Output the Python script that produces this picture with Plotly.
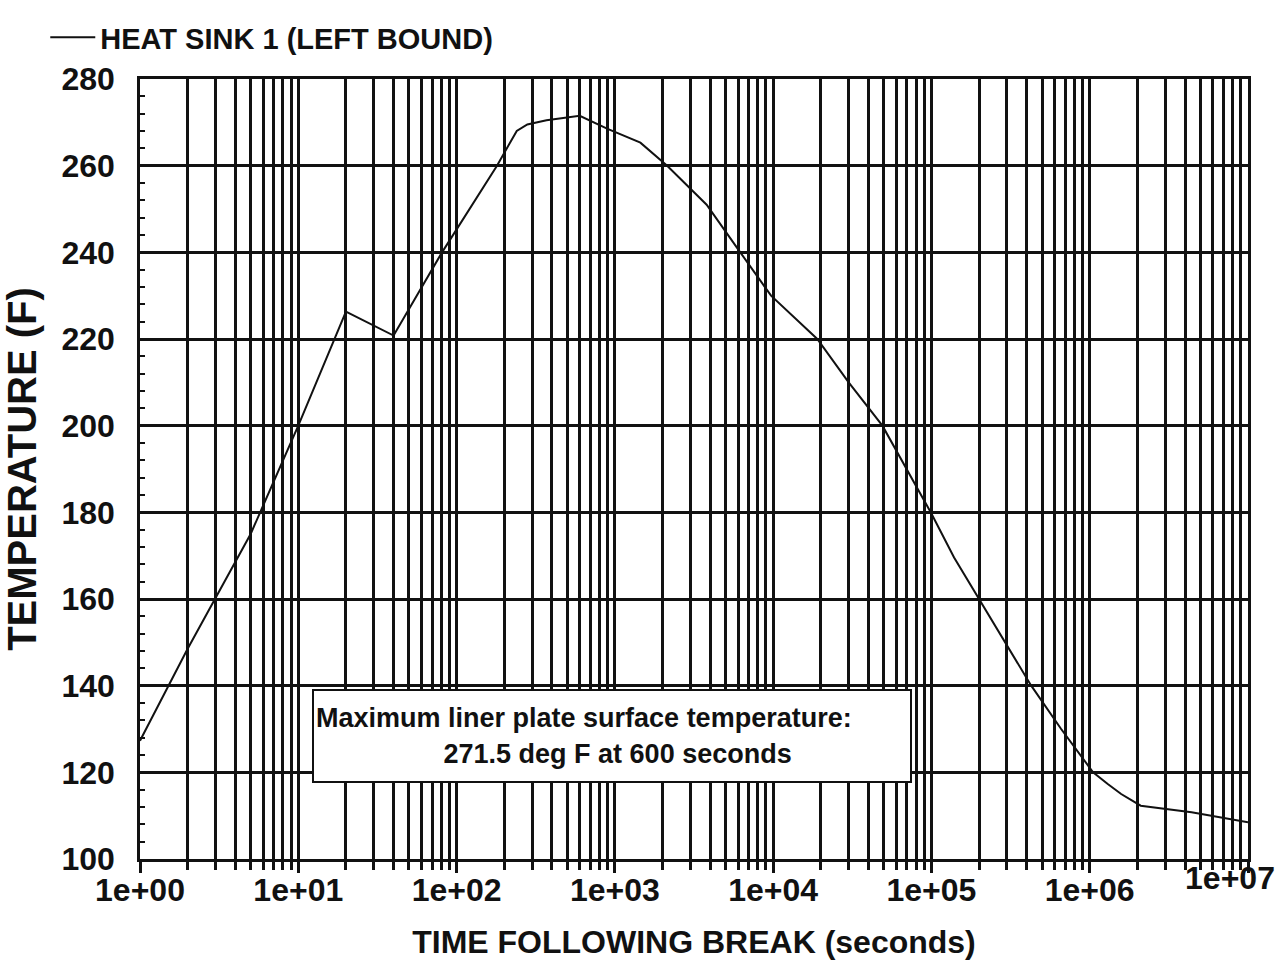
import plotly.graph_objects as go

# Heat sink 1 (left bound) surface temperature history
time_s = [1, 2, 5, 10, 20, 40, 80, 180, 240, 280, 370, 600, 900, 1450, 2140,
          3800, 6200, 9700, 19000, 30000, 49000, 70000, 99000, 139000, 200000,
          300000, 427000, 660000, 1.05e6, 1.3e6, 1.58e6, 2.1e6, 4.4e6, 1e7]
temp_f = [127.3, 148.5, 175, 200, 226.3, 220.8, 239.7, 260, 268, 269.5, 270.5,
          271.5, 268.5, 265.3, 260, 251, 240, 230, 220, 210, 200, 190, 180,
          169.6, 160, 149.6, 140, 130, 120, 117.3, 115, 112.3, 110.8, 108.5]

series_name = "HEAT SINK 1 (LEFT BOUND)"
peak_temp = 271.5
peak_time = 600

decade_vals = [1, 10, 100, 1000, 1e4, 1e5, 1e6, 1e7]
decade_text = ["1e+00", "1e+01", "1e+02", "1e+03", "1e+04", "1e+05", "1e+06",
               "1e+07"]
minor_vals = [m * d for d in decade_vals[:-1] for m in range(2, 10)]

FONT = "Liberation Sans, Arial, sans-serif"
BLACK = "#111111"
GRID_W = 2.5
TICK_FONT = dict(family=FONT, size=32, color=BLACK, weight="bold")

fig = go.Figure()
fig.add_trace(go.Scatter(
    x=time_s, y=temp_f, mode="lines", name=series_name,
    line=dict(color=BLACK, width=2),
))
# transparent copy that keeps the overlay axis (last decade label) drawn
fig.add_trace(go.Scatter(
    x=time_s, y=temp_f, mode="lines", xaxis="x2", yaxis="y",
    line=dict(color="rgba(0,0,0,0)", width=0), opacity=0,
    showlegend=False, hoverinfo="skip",
))

fig.update_layout(
    width=1278, height=972,
    margin=dict(l=140, r=30, t=76, b=113),
    paper_bgcolor="white", plot_bgcolor="white",
    font=dict(family=FONT, color=BLACK, size=30, weight="bold"),
    showlegend=True,
    legend=dict(
        x=-0.0855, y=1.086, xanchor="left", yanchor="top",
        font=dict(family=FONT, size=29, color=BLACK, weight="bold"),
        bgcolor="rgba(0,0,0,0)", itemwidth=45,
    ),
)

# main time axis: decade labels except the last, which sits on an overlay axis
fig.update_layout(
    xaxis=dict(
        type="log", range=[0, 7], automargin=False,
        tickmode="array", tickvals=decade_vals,
        ticktext=decade_text[:-1] + [""],
        tickfont=TICK_FONT, ticklabelstandoff=-10,
        ticks="outside", ticklen=11, tickwidth=GRID_W, tickcolor=BLACK,
        showgrid=True, gridcolor=BLACK, gridwidth=GRID_W,
        showline=True, linecolor=BLACK, linewidth=GRID_W, mirror=True,
        minor=dict(tickmode="array", tickvals=minor_vals, ticks="outside",
                   ticklen=8, tickwidth=GRID_W, tickcolor=BLACK,
                   showgrid=True, gridcolor=BLACK, gridwidth=GRID_W),
        title=dict(text="TIME FOLLOWING BREAK (seconds)", standoff=24,
                   font=dict(family=FONT, size=32, color=BLACK, weight="bold")),
        zeroline=False,
    ),
    xaxis2=dict(
        type="log", range=[0, 7], overlaying="x", anchor="y", side="bottom",
        automargin=False, showgrid=False, showline=False, zeroline=False,
        tickmode="array", tickvals=decade_vals[-1:], ticktext=decade_text[-1:],
        tickfont=TICK_FONT, ticks="", ticklabelshift=-18,
        ticklabelstandoff=-3, ticklabeloverflow="allow",
    ),
)

fig.update_yaxes(
    range=[100, 280], dtick=20, tick0=100, automargin=False,
    tickfont=TICK_FONT,
    ticks="inside", ticklen=5, tickwidth=1.5, tickcolor=BLACK,
    ticklabelstandoff=16,
    showgrid=True, gridcolor=BLACK, gridwidth=GRID_W,
    showline=True, linecolor=BLACK, linewidth=GRID_W, mirror=True,
    minor=dict(dtick=4, ticks="inside", ticklen=5, tickwidth=1.5,
               tickcolor=BLACK, showgrid=False),
    title=dict(text="TEMPERATURE (F)", standoff=18,
               font=dict(family=FONT, size=40, color=BLACK, weight="bold")),
    zeroline=False,
)

fig.add_annotation(
    xref="paper", yref="paper", x=0.1552, y=0.2174,
    xanchor="left", yanchor="top",
    width=592, height=86, align="left", valign="middle",
    text=(f"Maximum liner plate surface temperature:<br>"
          + "\u00a0" * 17 + f"{peak_temp} deg F at {peak_time} seconds"),
    showarrow=False,
    font=dict(family=FONT, size=27, color=BLACK, weight="bold"),
    bgcolor="white", bordercolor=BLACK, borderwidth=2, borderpad=2,
)

fig.write_html("out.html")
